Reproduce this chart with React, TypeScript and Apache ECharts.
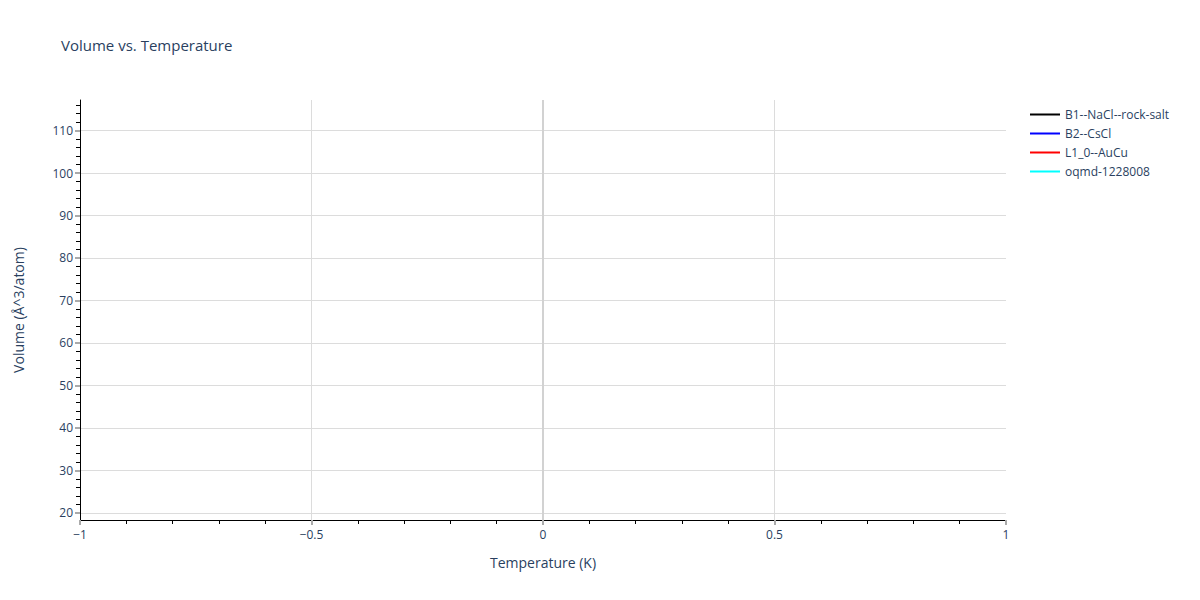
import React, { useEffect, useRef } from "react";
import * as echarts from "echarts";

const title = "Volume vs. Temperature";
const xAxisTitle = "Temperature (K)";
const yAxisTitle = "Volume (Å^3/atom)";

const seriesNames = ["B1--NaCl--rock-salt", "B2--CsCl", "L1_0--AuCu", "oqmd-1228008"];
const seriesColors = ["#000000", "#0000ff", "#ff0000", "#00ffff"];
// No visible data in the reference: each trace is empty.
const b1Data: [number, number][] = [];
const b2Data: [number, number][] = [];
const l10Data: [number, number][] = [];
const oqmdData: [number, number][] = [];
const seriesData = [b1Data, b2Data, l10Data, oqmdData];

const xMin = -1;
const xMax = 1;
const xInterval = 0.5;
const xGridValues = [-0.5, 0.5];
const xZero = 0;

const yMin = 18.3;
const yMax = 117.2;
const yMajorTicks = [20, 30, 40, 50, 60, 70, 80, 90, 100, 110];
const yMinorTicks = [
  22, 24, 26, 28, 32, 34, 36, 38, 42, 44, 46, 48, 52, 54, 56, 58, 62, 64, 66, 68,
  72, 74, 76, 78, 82, 84, 86, 88, 92, 94, 96, 98, 102, 104, 106, 108, 112, 114, 116,
];

const FONT = '"Open Sans", verdana, arial, sans-serif';
const TEXT = "#2a3f5f";

export default function App() {
  const ref = useRef<HTMLDivElement>(null);
  useEffect(() => {
    if (!ref.current) return;
    const chart = echarts.init(ref.current, undefined, { renderer: "svg" });
    const lineSeries = seriesNames.map((name, i) => ({
      name,
      type: "line",
      data: seriesData[i],
      showSymbol: false,
      xAxisIndex: 0,
      yAxisIndex: 0,
      lineStyle: { color: seriesColors[i], width: 2 },
      itemStyle: { color: seriesColors[i] },
    }));
    const gridHelper = {
      name: "__grid",
      type: "line",
      data: [] as [number, number][],
      xAxisIndex: 0,
      yAxisIndex: 0,
      silent: true,
      markLine: {
        silent: true,
        symbol: "none",
        label: { show: false },
        animation: false,
        data: [
          ...xGridValues.map((v) => ({ xAxis: v, lineStyle: { color: "#dcdcdc", width: 1, type: "solid" } })),
          { xAxis: xZero, lineStyle: { color: "#d2d2d2", width: 2, type: "solid" } },
        ],
      },
    };
    chart.setOption({
      animation: false,
      textStyle: { fontFamily: FONT },
      title: {
        text: title,
        left: 56,
        top: 32,
        textStyle: { fontFamily: FONT, fontSize: 15, fontWeight: "normal", color: TEXT },
      },
      legend: {
        data: seriesNames,
        orient: "vertical",
        left: 1025,
        top: 100,
        icon: "rect",
        itemWidth: 30,
        itemHeight: 2,
        itemGap: 0,
        itemTextGap: 5,
        textStyle: { fontFamily: FONT, fontSize: 12, color: TEXT, lineHeight: 19 },
      },
      grid: { left: 80, right: 194, top: 100, bottom: 80, containLabel: false },
      xAxis: [
        {
          type: "value",
          min: xMin,
          max: xMax,
          interval: xInterval,
          name: xAxisTitle,
          nameLocation: "middle",
          nameGap: 35,
          nameTextStyle: { fontFamily: FONT, fontSize: 14, color: TEXT },
          axisLine: { show: true, onZero: false, lineStyle: { color: "#000", width: 1 } },
          axisTick: { show: true, length: 5, lineStyle: { color: "#aaaaaa", width: 2 } },
          minorTick: { show: true, splitNumber: 5, length: 4, lineStyle: { color: "#000", width: 1 } },
          axisLabel: {
            margin: 8,
            fontFamily: FONT,
            fontSize: 12,
            color: TEXT,
            formatter: (v: number) => String(v).replace("-", "\u2212"),
          },
          splitLine: { show: false },
        },
      ],
      yAxis: [
        {
          type: "value",
          min: yMin,
          max: yMax,
          name: yAxisTitle,
          nameLocation: "middle",
          nameGap: 55,
          nameTextStyle: { fontFamily: FONT, fontSize: 14, color: TEXT },
          axisLine: { show: true, onZero: false, lineStyle: { color: "#000", width: 1 } },
          axisTick: { show: true, length: 5, customValues: yMajorTicks, lineStyle: { color: "#aaaaaa", width: 2 } },
          axisLabel: { margin: 7, fontFamily: FONT, fontSize: 12, color: TEXT, customValues: yMajorTicks },
          splitLine: { show: true, lineStyle: { color: "#dcdcdc", width: 1 } },
        },
        {
          type: "value",
          min: yMin,
          max: yMax,
          position: "left",
          axisLine: { show: false, onZero: false },
          axisTick: { show: true, inside: false, length: 4, customValues: yMinorTicks, lineStyle: { color: "#000", width: 1 } },
          axisLabel: { show: false },
          splitLine: { show: false },
        },
      ],
      series: [...lineSeries, gridHelper],
    });
    return () => chart.dispose();
  }, []);
  return (
    <div
      ref={ref}
      style={{ position: "fixed", left: 0, top: 0, width: 1200, height: 600, background: "#fff" }}
    />
  );
}
